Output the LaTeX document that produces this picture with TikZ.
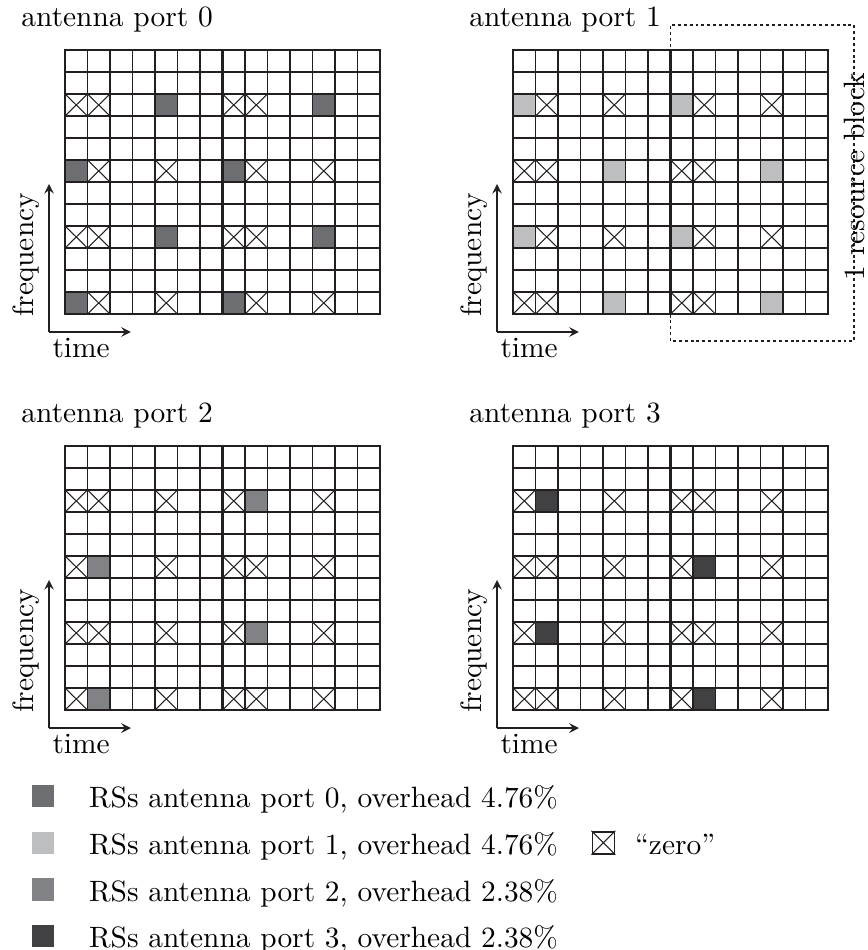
\documentclass[tikz,border=0pt]{standalone}
\usepackage{xcolor}
\usepackage{tikz}
\usetikzlibrary{positioning}
\definecolor{rszero}{HTML}{6D6E71}
\definecolor{rsone}{HTML}{BCBEC0}
\definecolor{rstwo}{HTML}{808285}
\definecolor{rsthree}{HTML}{414042}
\definecolor{gridline}{HTML}{231F20}

\begin{document}
\begin{tikzpicture}[
        x=7.65pt,
        y=7.48pt,
        cellline/.style={
            gridline,
            line width=0.45pt
        },
        frame/.style={
            gridline,
            line width=0.95pt
        },
        zeromark/.style={
            gridline,
            line width=0.35pt
        },
        axis/.style={
            ->,
            >=stealth,
            line width=0.45pt,
            gridline
        },
        txtlabel/.style={
            inner sep=0pt,
            anchor=base west
        },
        rbbox/.style={
            gridline,
            line width=0.45pt,
            dash pattern=on 1pt off 1pt
        },
        key/.style={
            minimum size=7.5pt,
            inner sep=0pt
        },
        node distance=8pt
    ]
    \useasboundingbox (0,0) rectangle (38.533,43.182);

    % one grid per antenna port: shift / port / colour / RS cells / "zero" cells
    \foreach \gx/\gy/\port/\rscol/\rscells/\zcells in {%
        2.889/28.909/0/rszero/{4/9,11/9,0/6,7/6,4/3,11/3,0/0,7/0}/{0/9,1/9,7/9,8/9,1/6,4/6,8/6,11/6,0/3,1/3,7/3,8/3,1/0,4/0,8/0,11/0},
        22.8/28.909/1/rsone/{0/9,7/9,4/6,11/6,0/3,7/3,4/0,11/0}/{1/9,4/9,8/9,11/9,0/6,1/6,7/6,8/6,1/3,4/3,8/3,11/3,0/0,1/0,7/0,8/0},
        2.889/10.909/2/rstwo/{8/9,1/6,8/3,1/0}/{0/9,1/9,4/9,7/9,11/9,0/6,4/6,7/6,8/6,11/6,0/3,1/3,4/3,7/3,11/3,0/0,4/0,7/0,8/0,11/0},
        22.8/10.909/3/rsthree/{1/9,8/6,1/3,8/0}/{0/9,4/9,7/9,8/9,11/9,0/6,1/6,4/6,7/6,11/6,0/3,4/3,7/3,8/3,11/3,0/0,1/0,4/0,7/0,11/0}}{
    \begin{scope}[shift={(\gx,\gy)}]
        \foreach \cc/\rr in \rscells
            \fill[\rscol] (\cc,\rr) rectangle ++(1,1);
        \foreach \cc/\rr in \zcells
            \draw[zeromark] (\cc,\rr) -- ++(1,1) (\cc,\rr+1) -- ++(1,-1);
        \foreach \cc in {1,...,13}
            \draw[cellline] (\cc,0) -- (\cc,12);
        \foreach \rr in {1,...,11}
            \draw[cellline] (0,\rr) -- (14,\rr);
        \draw[frame] (0,0) rectangle (14,12) (7,0) -- (7,12);

        \node[txtlabel] (port\port) at (-1.96,13.09) {antenna port \port};

        \coordinate (orig\port) at (-0.71,-0.82);
        \coordinate (freq\port) at (-0.71,5.91);
        \coordinate (time\port) at (2.93,-0.82);
        \draw[axis] (orig\port) -- (freq\port);
        \draw[axis] (orig\port) -- (time\port);
        \node[txtlabel, rotate=90] (flab\port) at (-1.42,-0.14) {frequency};
        \node[txtlabel] (tlab\port) at (-0.58,-2.0) {time};
    \end{scope}
    }

    % resource block marker on port 1
    \begin{scope}[shift={(22.8,28.909)}]
        \coordinate (rbsw) at (7,-1.23);
        \coordinate (rbne) at (15.16,13.14);
        \draw[rbbox] (rbsw) rectangle (rbne);
        \path (rbsw -| rbne) -- node[pos=0.52, rotate=90, inner sep=0pt] (rblab) {1 resource block} (rbne);
    \end{scope}

    % legend
    \node[key, fill=rszero] (key0) at (1.911,7.0) {};
    \node[key, fill=rsone, below=of key0] (key1) {};
    \node[key, fill=rstwo, below=of key1] (key2) {};
    \node[key, fill=rsthree, below=of key2] (key3) {};
    \node[txtlabel, right=11.5pt of key0.south east, anchor=base west] (txt0) {RSs antenna port 0, overhead 4.76\%};
    \node[txtlabel, right=11.5pt of key1.south east, anchor=base west] (txt1) {RSs antenna port 1, overhead 4.76\%};
    \node[txtlabel, right=11.5pt of key2.south east, anchor=base west] (txt2) {RSs antenna port 2, overhead 2.38\%};
    \node[txtlabel, right=11.5pt of key3.south east, anchor=base west] (txt3) {RSs antenna port 3, overhead 2.38\%};

    \coordinate (zpos) at (26.82,0);
    \node[key, draw=gridline, line width=0.6pt] (zkey) at (key1 -| zpos) {};
    \draw[zeromark] (zkey.south west) -- (zkey.north east) (zkey.north west) -- (zkey.south east);
    \node[txtlabel, right=6.5pt of zkey.south east, anchor=base west] (ztxt) {``zero''};

\end{tikzpicture}
\end{document}
